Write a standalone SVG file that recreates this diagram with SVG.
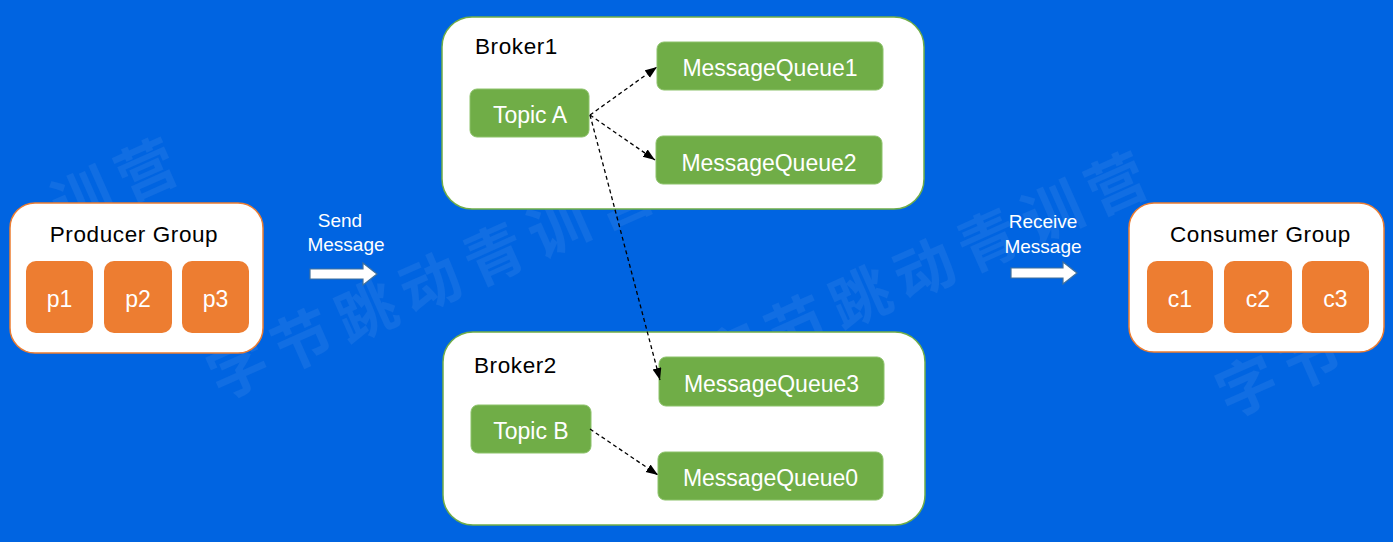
<svg xmlns="http://www.w3.org/2000/svg" width="1393" height="542" viewBox="0 0 1393 542">
<defs>
<style>
.bg{fill:#0064E1}
.wm{font-family:"Noto Sans CJK SC","Noto Sans CJK TC",sans-serif;font-weight:bold;font-size:60px;fill:#ffffff;fill-opacity:0.065;letter-spacing:10px;text-anchor:middle;dominant-baseline:central}
.grp{fill:#ffffff;stroke:#ED7D31;stroke-width:1.5}
.brk{fill:#ffffff;stroke:#70AD47;stroke-width:1.5}
.orn{fill:#ED7D31}
.grn{fill:#70AD47;stroke:#8CC26A;stroke-width:1}
.t{font-family:"Liberation Sans",Arial,sans-serif}
.title{font-size:22.5px;fill:#000000;letter-spacing:0.6px}
.wt{font-size:23px;fill:#ffffff;text-anchor:middle}
.lbl{font-size:19px;fill:#ffffff;text-anchor:middle}
.blk{fill:#ffffff;stroke:#41719C;stroke-width:1.2}
.con{fill:none;stroke:#000000;stroke-width:1.3;stroke-dasharray:4 3;marker-end:url(#ah)}
</style>
<marker id="ah" markerUnits="userSpaceOnUse" markerWidth="13" markerHeight="10" refX="12" refY="4.5" orient="auto">
<path d="M0,0 L12,4.5 L0,9 z" fill="#000000"/>
</marker>
</defs>
<rect class="bg" x="0" y="0" width="1393" height="542"/>
<g id="watermark">
<text class="wm" transform="translate(117,178) rotate(-24)">训营</text>
<text class="wm" transform="translate(433,277) rotate(-24)">字节跳动青训营</text>
<text class="wm" transform="translate(927,263) rotate(-24)">字节跳动青训营</text>
<text class="wm" transform="translate(1282,366) rotate(-24)">字节</text>
</g>
<g id="producer-group">
<rect class="grp" x="10" y="203" width="253" height="150" rx="25"/>
<text class="t title" x="134" y="242" text-anchor="middle">Producer Group</text>
</g>
<g id="p1"><rect class="orn" x="26" y="261" width="67" height="72" rx="10"/><text class="t wt" x="59.5" y="307">p1</text></g>
<g id="p2"><rect class="orn" x="104" y="261" width="68" height="72" rx="10"/><text class="t wt" x="138" y="307">p2</text></g>
<g id="p3"><rect class="orn" x="182" y="261" width="67" height="72" rx="10"/><text class="t wt" x="215.5" y="307">p3</text></g>
<g id="send-message">
<text class="t lbl" x="340" y="227">Send</text>
<text class="t lbl" x="346" y="251">Message</text>
<polygon class="blk" points="310,269 363,269 363,263 377,274 363,285 363,279 310,279"/>
</g>
<g id="broker1">
<rect class="brk" x="442" y="17" width="482" height="192" rx="30"/>
<text class="t title" x="475" y="54">Broker1</text>
</g>
<g id="topic-a"><rect class="grn" x="470" y="89" width="119" height="48" rx="7"/><text class="t wt" x="530" y="123">Topic A</text></g>
<g id="mq1"><rect class="grn" x="657" y="42" width="226" height="48" rx="7"/><text class="t wt" x="770" y="76">MessageQueue1</text></g>
<g id="mq2"><rect class="grn" x="656" y="136" width="226" height="48" rx="7"/><text class="t wt" x="769" y="171">MessageQueue2</text></g>
<g id="broker2">
<rect class="brk" x="443" y="332" width="482" height="193" rx="30"/>
<text class="t title" x="474" y="373">Broker2</text>
</g>
<g id="mq3"><rect class="grn" x="659" y="357" width="225" height="49" rx="7"/><text class="t wt" x="771.5" y="392">MessageQueue3</text></g>
<g id="topic-b"><rect class="grn" x="471" y="405" width="120" height="48" rx="7"/><text class="t wt" x="531" y="439">Topic B</text></g>
<g id="mq0"><rect class="grn" x="658" y="452" width="225" height="48" rx="7"/><text class="t wt" x="770.5" y="486">MessageQueue0</text></g>
<g id="receive-message">
<text class="t lbl" x="1043" y="228">Receive</text>
<text class="t lbl" x="1043" y="253">Message</text>
<polygon class="blk" points="1011,268 1063,268 1063,262 1077,273 1063,284 1063,278 1011,278"/>
</g>
<g id="consumer-group">
<rect class="grp" x="1129" y="203" width="255" height="149" rx="25"/>
<text class="t title" x="1260.5" y="242" text-anchor="middle">Consumer Group</text>
</g>
<g id="c1"><rect class="orn" x="1147" y="261" width="66" height="72" rx="10"/><text class="t wt" x="1180" y="307">c1</text></g>
<g id="c2"><rect class="orn" x="1224" y="261" width="68" height="72" rx="10"/><text class="t wt" x="1258" y="307">c2</text></g>
<g id="c3"><rect class="orn" x="1302" y="261" width="67" height="72" rx="10"/><text class="t wt" x="1335.5" y="307">c3</text></g>
<g id="connectors">
<line class="con" x1="590" y1="115" x2="657" y2="67"/>
<line class="con" x1="590" y1="115" x2="655" y2="160"/>
<line class="con" x1="590" y1="115" x2="660" y2="380"/>
<line class="con" x1="590" y1="429" x2="658" y2="475"/>
</g>
</svg>
